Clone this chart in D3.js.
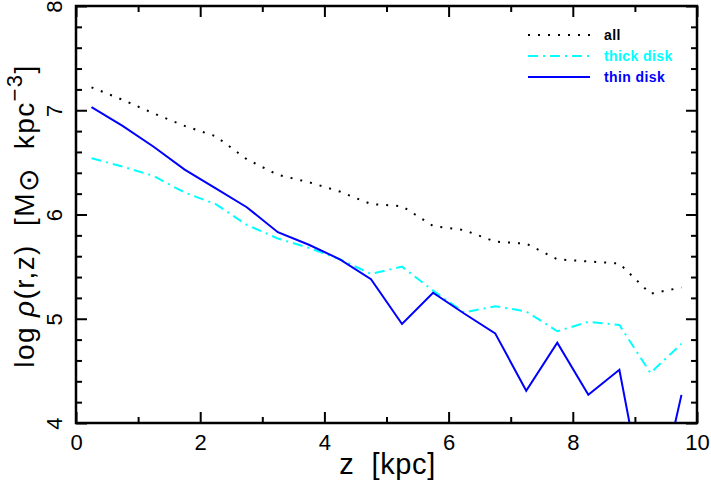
<!DOCTYPE html>
<html>
<head>
<meta charset="utf-8">
<script src="https://cdn.jsdelivr.net/npm/d3@7"></script>
<style>
  html, body { margin: 0; padding: 0; background: #fff; }
  svg { display: block; font-family: "Liberation Sans", Arial, Helvetica, sans-serif; }
</style>
</head>
<body>
<svg id="chart" width="711" height="491"></svg>
<script>
// ---- data ----
const zValues = [0.25, 0.75, 1.25, 1.75, 2.25, 2.75, 3.25, 3.75, 4.25, 4.75,
                 5.25, 5.75, 6.25, 6.75, 7.25, 7.75, 8.25, 8.75, 9.25, 9.75];
const allDensity   = [7.22, 7.10, 6.97, 6.85, 6.75, 6.53, 6.38, 6.31, 6.22, 6.10,
                      6.08, 5.89, 5.85, 5.74, 5.72, 5.57, 5.55, 5.53, 5.24, 5.30];
const thickDensity = [6.54, 6.46, 6.37, 6.21, 6.10, 5.90, 5.77, 5.68, 5.57, 5.43,
                      5.50, 5.27, 5.06, 5.12, 5.07, 4.88, 4.97, 4.94, 4.48, 4.76];
const thinDensity  = [7.03, 6.85, 6.65, 6.43, 6.25, 6.07, 5.83, 5.71, 5.57, 5.38,
                      4.95, 5.25, 5.05, 4.86, 4.31, 4.77, 4.27, 4.51, 2.95, 4.27];
const seriesNames  = ["all", "thick disk", "thin disk"];
const seriesColors = ["#000000", "#00ffff", "#0000ff"];
const seriesDash   = ["2,8", "10,5,2,5", null];
const xMajorTicks = [0, 2, 4, 6, 8, 10];
const yMajorTicks = [4, 5, 6, 7, 8];

// ---- layout ----
const svg = d3.select("#chart");
const L = 76, R = 697, T = 6, B = 423;
const x = d3.scaleLinear().domain([0, 10]).range([L, R]);
const y = d3.scaleLinear().domain([4, 8]).range([B, T]);

svg.append("defs").append("clipPath").attr("id", "plotclip")
  .append("rect").attr("x", L).attr("y", T).attr("width", R - L).attr("height", B - T);

// data lines
const seriesData = [allDensity, thickDensity, thinDensity];
const line = d3.line().x((d, i) => x(zValues[i])).y(d => y(d));
const g = svg.append("g").attr("clip-path", "url(#plotclip)");
seriesData.forEach((vals, k) => {
  g.append("path")
    .datum(vals)
    .attr("d", line)
    .attr("fill", "none")
    .attr("stroke", seriesColors[k])
    .attr("stroke-width", 2)
    .attr("stroke-dasharray", seriesDash[k]);
});

// axes (ticks inward on all sides)
const xMinor = d3.range(0, 11, 1).filter(v => !xMajorTicks.includes(v));
const yMinor = d3.range(4, 8.001, 0.2).map(v => +v.toFixed(1)).filter(v => !yMajorTicks.includes(v));

function tickAxis(axisFn, scale, ticks, size, transform, labels) {
  const a = axisFn(scale).tickValues(ticks).tickSizeInner(size).tickSizeOuter(0).tickPadding(6);
  a.tickFormat(labels ? d3.format("d") : "");
  const gg = svg.append("g").attr("transform", transform).call(a);
  gg.select(".domain").remove();
  gg.selectAll(".tick line").attr("stroke", "#000").attr("stroke-width", 2);
  return gg;
}
// bottom
const bx = tickAxis(d3.axisTop, x, xMajorTicks, 11, `translate(0,${B})`, true);
bx.selectAll(".tick text").attr("y", 0).attr("dy", 0)
  .attr("transform", "translate(0,27)").attr("font-size", 22).attr("fill", "#000");
tickAxis(d3.axisTop, x, xMinor, 6, `translate(0,${B})`, false);
// top
tickAxis(d3.axisBottom, x, xMajorTicks, 11, `translate(0,${T})`, false);
tickAxis(d3.axisBottom, x, xMinor, 6, `translate(0,${T})`, false);
// left
const ly = tickAxis(d3.axisRight, y, yMajorTicks, 11, `translate(${L},0)`, true);
ly.selectAll(".tick text")
  .attr("x", 0).attr("dy", 0)
  .attr("text-anchor", "middle")
  .attr("transform", "translate(-14,0) rotate(-90)")
  .attr("font-size", 22).attr("fill", "#000");
tickAxis(d3.axisRight, y, yMinor, 6, `translate(${L},0)`, false);
// right
tickAxis(d3.axisLeft, y, yMajorTicks, 11, `translate(${R},0)`, false);
tickAxis(d3.axisLeft, y, yMinor, 6, `translate(${R},0)`, false);

// frame
svg.append("rect").attr("x", L).attr("y", T).attr("width", R - L).attr("height", B - T)
  .attr("fill", "none").attr("stroke", "#000").attr("stroke-width", 2.5);

// axis titles
svg.append("text")
  .attr("x", (L + R) / 2 + 1).attr("y", 474)
  .attr("text-anchor", "middle").attr("font-size", 29).attr("fill", "#000")
  .attr("letter-spacing", 0.6)
  .attr("xml:space", "preserve")
  .text("z  [kpc]");

const yt = svg.append("text")
  .attr("transform", `translate(34,${216}) rotate(-90)`)
  .attr("text-anchor", "middle").attr("font-size", 28).attr("fill", "#000")
  .attr("letter-spacing", 1.4)
  .attr("xml:space", "preserve");
yt.append("tspan").text("log ");
yt.append("tspan").attr("font-style", "italic").text("ρ");
yt.append("tspan").text("(r,z)  [M");
yt.append("tspan").attr("dy", 4).text("⊙");
yt.append("tspan").attr("dy", -4).text("  kpc");
yt.append("tspan").attr("font-size", 22).attr("dy", -12).text("−3");
yt.append("tspan").attr("dy", 12).text("]");

// legend
const legend = svg.append("g");
seriesNames.forEach((name, k) => {
  const ly0 = 35 + k * 21;
  legend.append("line")
    .attr("x1", 528).attr("x2", 590).attr("y1", ly0).attr("y2", ly0)
    .attr("stroke", seriesColors[k]).attr("stroke-width", 2)
    .attr("stroke-dasharray", seriesDash[k]);
  legend.append("text")
    .attr("x", 604).attr("y", ly0 + 5)
    .attr("font-size", 14).attr("font-weight", "bold").attr("letter-spacing", 0.4)
    .attr("fill", seriesColors[k])
    .text(name);
});
</script>
</body>
</html>
